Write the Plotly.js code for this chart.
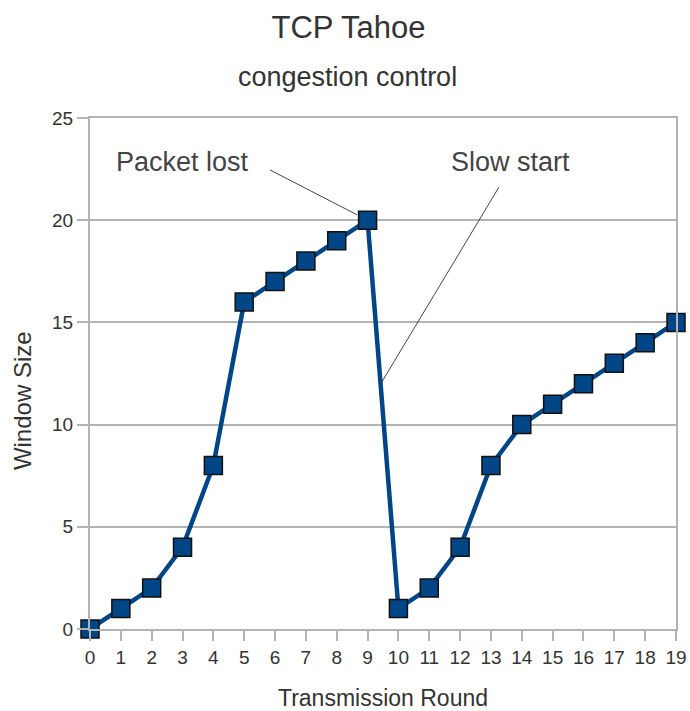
<!DOCTYPE html>
<html>
<head>
<meta charset="utf-8">
<script src="https://cdn.plot.ly/plotly-3.0.1.min.js"></script>
<style>html,body{margin:0;padding:0;background:#fff;}#chart{width:690px;height:711px;}</style>
</head>
<body>
<div id="chart"></div>
<script>
const rounds = [0,1,2,3,4,5,6,7,8,9,10,11,12,13,14,15,16,17,18,19];
const windowSize = [0,1,2,4,8,16,17,18,19,20,1,2,4,8,10,11,12,13,14,15];
const xTicks = [0,1,2,3,4,5,6,7,8,9,10,11,12,13,14,15,16,17,18,19];
const yTicks = [0,5,10,15,20,25];

const font = 'Liberation Sans, Arial, sans-serif';
const grid = '#b3b3b3';

const trace = {
  x: rounds, y: windowSize, type: 'scatter', mode: 'lines+markers',
  line: {color: '#004586', width: 4.5},
  marker: {symbol: 'square', size: 18, color: '#004586', line: {color: '#111', width: 1.5}},
  cliponaxis: false, hoverinfo: 'skip'
};

const layout = {
  width: 690, height: 711,
  margin: {l: 90, r: 14, t: 118, b: 82},
  paper_bgcolor: '#fff', plot_bgcolor: '#fff',
  font: {family: font, color: '#333'},
  title: {text: 'TCP Tahoe', font: {size: 31, color: '#333', family: font}, x: 0.505, xanchor: 'center', y: 0.962, yanchor: 'middle'},
  showlegend: false,
  xaxis: {
    range: [0, 19], tickvals: xTicks, ticktext: xTicks.map(String),
    showgrid: false, zeroline: false,
    showline: true, linecolor: grid, linewidth: 2, mirror: true,
    ticks: 'outside', ticklen: 10, tickwidth: 2, tickcolor: grid,
    tickfont: {size: 19, color: '#333'},
    title: {text: 'Transmission Round', font: {size: 23, color: '#333'}, standoff: 24}
  },
  yaxis: {
    range: [0, 25], tickvals: yTicks, ticktext: yTicks.map(String),
    showgrid: true, gridcolor: grid, gridwidth: 2, zeroline: false,
    showline: true, linecolor: grid, linewidth: 2, mirror: true,
    ticks: 'outside', ticklen: 11, tickwidth: 2, tickcolor: grid,
    tickfont: {size: 19, color: '#333'}
  },
  annotations: [
    {text: 'congestion control', xref: 'paper', yref: 'paper', x: 0.44, y: 1.080, xanchor: 'center', yanchor: 'middle', showarrow: false, font: {size: 27, color: '#333'}},
    {text: 'Window Size', xref: 'paper', yref: 'paper', x: -0.116, y: 0.446, xanchor: 'center', yanchor: 'middle', textangle: -90, showarrow: false, font: {size: 24, color: '#333'}},
    {text: 'Packet lost', x: 3.0, y: 22.85, xref: 'x', yref: 'y', showarrow: false, font: {size: 27, color: '#444'}},
    {text: 'Slow start', x: 13.62, y: 22.85, xref: 'x', yref: 'y', showarrow: false, font: {size: 27, color: '#444'}},
    {text: ' ', x: 9, y: 20, xref: 'x', yref: 'y', ax: -99, ay: -51, showarrow: true, arrowhead: 0, arrowwidth: 1, arrowcolor: '#444', standoff: 12, font: {size: 1}},
    {text: ' ', x: 9.44, y: 12.03, xref: 'x', yref: 'y', ax: 119, ay: -198, showarrow: true, arrowhead: 0, arrowwidth: 1, arrowcolor: '#444', standoff: 0, font: {size: 1}}
  ]
};

Plotly.newPlot('chart', [trace], layout, {displayModeBar: false, staticPlot: true});
</script>
</body>
</html>
